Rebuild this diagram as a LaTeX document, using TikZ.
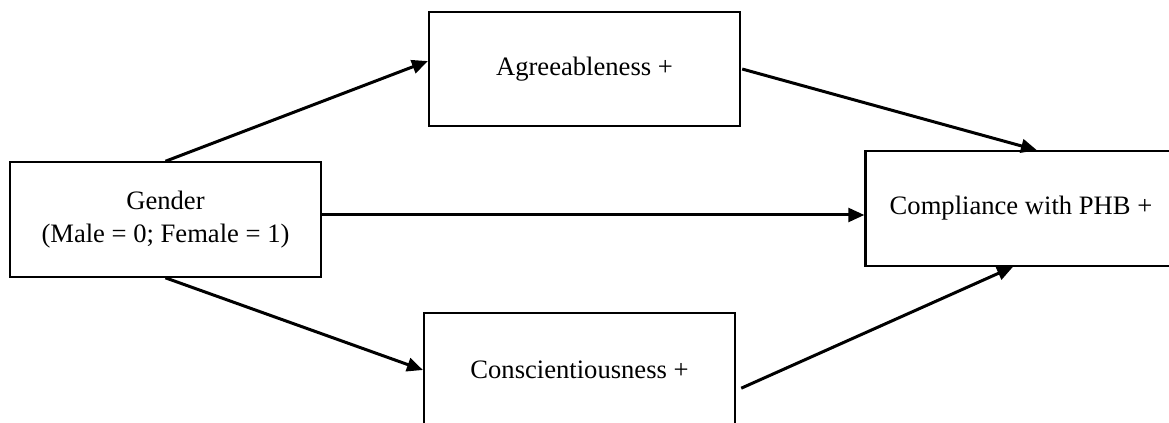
\documentclass[tikz,border=0pt]{standalone}
\usepackage{fontspec}
\setmainfont{Liberation Serif}
\usepackage{tikz}
\usetikzlibrary{arrows.meta, positioning, calc}
\tikzset{
  var/.style={rectangle, draw=black, line width=1.1pt, fill=white,
              minimum width=5.465cm, minimum height=2.01cm, align=center,
              font=\fontsize{13.3}{16.5}\selectfont},
  arr/.style={-{Triangle[length=2.8mm, width=2.4mm]}, line width=1.5pt, draw=black},
}

\begin{document}
\begin{tikzpicture}

% Ramka obrazu
\useasboundingbox (0, 0) rectangle (20.543, 7.416);

% ========== Zmienne ==========
\node[var] (gender)  at (2.908, 3.558)  {Gender \\ (Male = 0; Female = 1)};
\node[var] (agree)   at (10.271, 6.203) {Agreeableness +};
\node[var] (consc)   at (10.184, 0.914) {Conscientiousness +};
\node[var] (comp)    at (17.942, 3.752) {Compliance with PHB +};

% ========== Ścieżki ==========
% Płeć -> cechy osobowości
\draw[arr] (gender.north) -- ([yshift=0.14cm]agree.west);
\draw[arr] (gender.south) -- (consc.west);

% Cechy osobowości -> przestrzeganie PHB
\draw[arr] ([xshift=0.02cm]agree.east) -- ([xshift=0.28cm]comp.north);
\draw[arr] ([xshift=0.09cm, yshift=-0.32cm]consc.east) -- ([xshift=-0.14cm]comp.south);

% Efekt bezpośredni
\draw[arr] ([yshift=0.08cm]gender.east) -- ([yshift=0.08cm]gender.east -| comp.west);

\end{tikzpicture}
\end{document}
